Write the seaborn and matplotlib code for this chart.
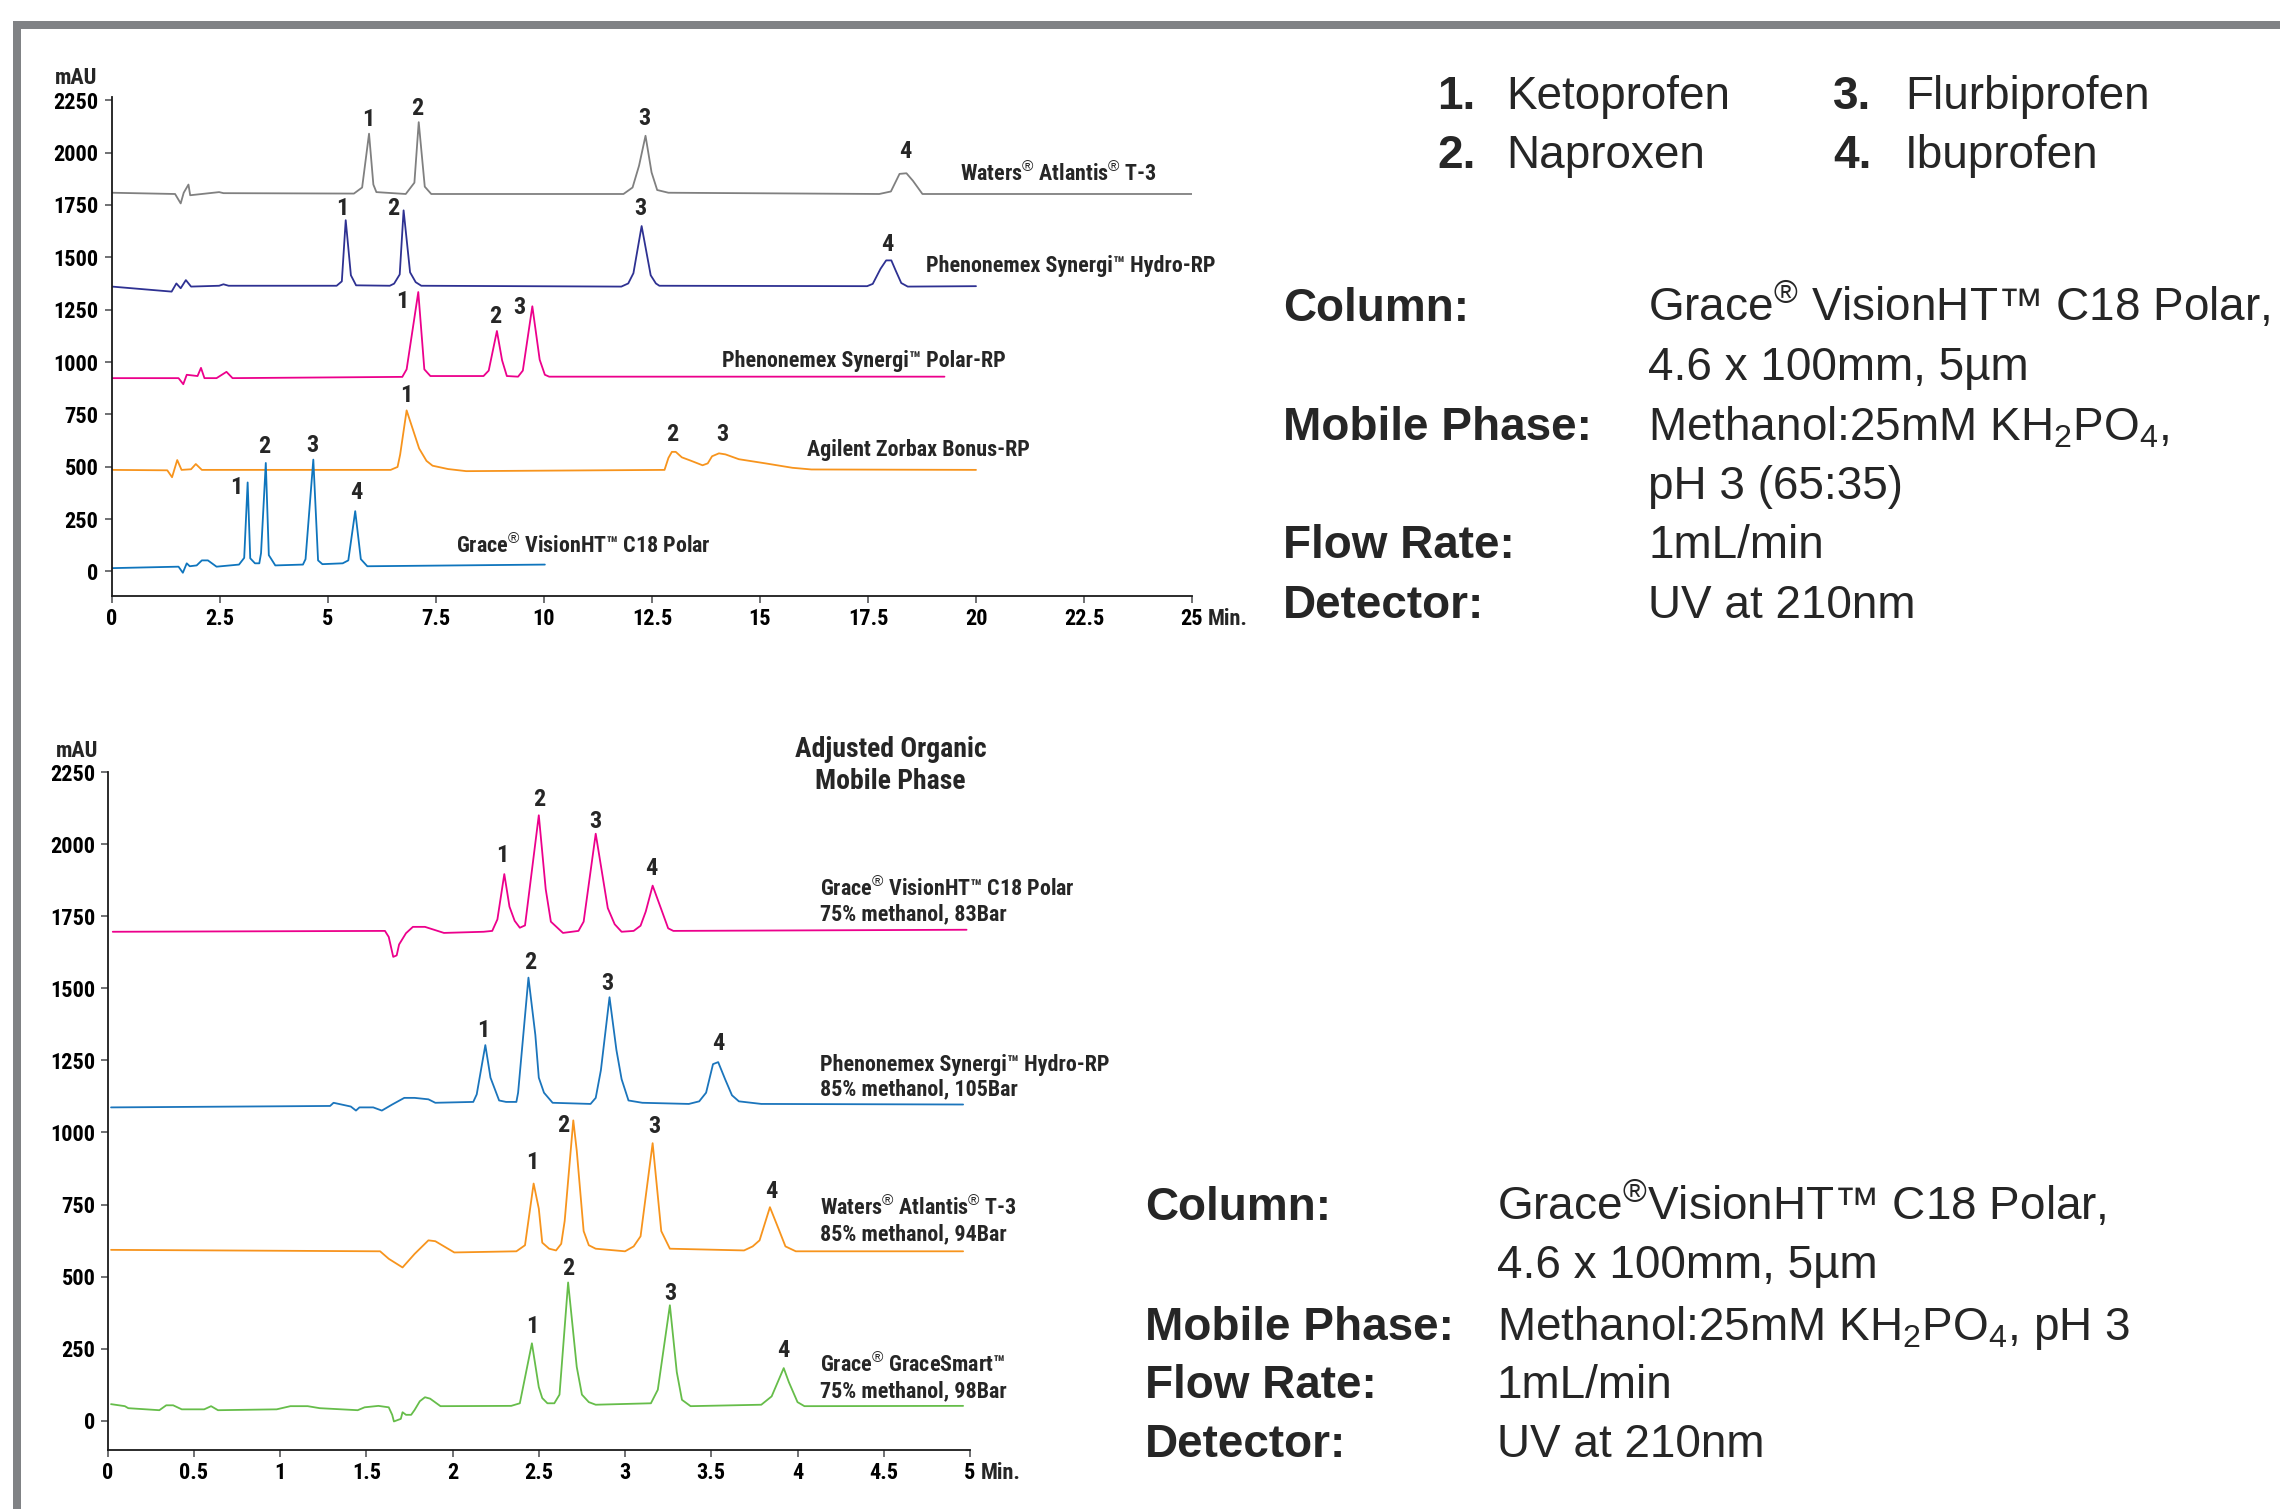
import matplotlib
matplotlib.use("Agg")
import matplotlib.pyplot as plt
import seaborn as sns
import numpy as np
import pandas as pd
from matplotlib import font_manager as fm
from matplotlib.patches import Rectangle

# ---------------- data: top panel (25 min runs) ----------------
top_waters_t = [0, 1.46, 1.59, 1.66, 1.77, 1.81, 2.48, 2.58, 5.6, 5.79, 5.95, 6.05, 6.12, 6.8, 7.0, 7.10, 7.24, 7.39,
                11.84, 12.05, 12.2, 12.35, 12.49, 12.62, 12.88, 17.76, 18.03, 18.23, 18.39, 18.54, 18.76, 25.0]
top_waters_y = [1808, 1802, 1757, 1808, 1847, 1796, 1811, 1806, 1804, 1833, 2090, 1847, 1811, 1802, 1856, 2145, 1837, 1802,
                1802, 1833, 1937, 2080, 1905, 1821, 1808, 1802, 1814, 1898, 1901, 1865, 1802, 1802]

top_hydro_t = [0, 1.38, 1.49, 1.59, 1.71, 1.83, 2.48, 2.58, 2.70, 5.20, 5.32, 5.41, 5.53, 5.65, 6.43, 6.53, 6.66, 6.75,
               6.90, 7.03, 7.16, 11.79, 11.95, 12.07, 12.26, 12.47, 12.59, 12.67, 17.48, 17.61, 17.79, 17.92, 18.04,
               18.14, 18.27, 18.42, 20.0]
top_hydro_y = [1360, 1336, 1375, 1352, 1391, 1360, 1364, 1371, 1364, 1364, 1385, 1677, 1414, 1366, 1364, 1374, 1418, 1724,
               1428, 1381, 1364, 1360, 1375, 1424, 1649, 1414, 1375, 1364, 1362, 1373, 1445, 1485, 1485,
               1437, 1377, 1360, 1362]

top_polar_t = [0, 1.54, 1.65, 1.73, 1.98, 2.06, 2.14, 2.42, 2.65, 2.79, 6.72, 6.82, 7.09, 7.23, 7.37, 8.60, 8.72, 8.91,
               9.03, 9.14, 9.40, 9.51, 9.73, 9.90, 10.02, 10.12, 19.27]
top_polar_y = [923, 923, 894, 939, 933, 972, 923, 923, 953, 923, 929, 965, 1334, 965, 933, 933, 959, 1148,
               1008, 933, 930, 959, 1266, 1011, 939, 930, 930]

top_bonus_t = [0, 1.28, 1.39, 1.51, 1.61, 1.83, 1.94, 2.08, 6.45, 6.61, 6.67, 6.82, 7.11, 7.28, 7.42, 7.78, 8.2,
               12.79, 12.88, 12.96, 13.05, 13.19, 13.41, 13.67, 13.79, 13.89, 14.05, 14.20, 14.51, 15.13, 15.75,
               16.19, 20.0]
top_bonus_y = [485, 483, 450, 532, 485, 488, 513, 485, 485, 499, 558, 769, 587, 528, 505, 489, 479,
               485, 542, 571, 571, 545, 528, 507, 516, 550, 564, 559, 536, 516, 495,
               487, 485]

top_vision_t = [0, 1.54, 1.64, 1.73, 1.80, 1.96, 2.08, 2.22, 2.42, 2.94, 3.06, 3.14, 3.20, 3.31, 3.41, 3.45, 3.56,
                3.63, 3.78, 4.42, 4.48, 4.66, 4.77, 4.87, 5.34, 5.47, 5.63, 5.76, 5.91, 10.02]
top_vision_y = [16, 23, -6, 39, 25, 29, 53, 53, 23, 33, 65, 425, 63, 39, 39, 88, 518,
                78, 29, 33, 59, 534, 53, 35, 39, 53, 288, 59, 25, 33]

R = "$^{\\mathrm{®}}$"
top_names = ["Waters" + R + " Atlantis" + R + " T-3",
             "Phenonemex Synergi™ Hydro-RP",
             "Phenonemex Synergi™ Polar-RP",
             "Agilent Zorbax Bonus-RP",
             "Grace" + R + " VisionHT™ C18 Polar"]
top_colors = ["#808080", "#2e3192", "#ec008c", "#f7941d", "#0f75bd"]
top_name_x = [19.62, 18.85, 14.13, 16.09, 7.97]
top_name_y = [1900, 1458, 1004, 579, 121]
top_peak_x = [[5.93, 7.06, 12.33, 18.37], [5.34, 6.50, 12.23, 17.95], [6.72, 8.88, 9.43],
              [6.80, 12.96, 14.12], [2.87, 3.52, 4.63, 5.65]]
top_peak_y = [[2158, 2210, 2160, 2003], [1735, 1735, 1735, 1562], [1291, 1219, 1262],
              [841, 653, 653], [401, 597, 603, 376]]
top_peak_id = [["1", "2", "3", "4"], ["1", "2", "3", "4"], ["1", "2", "3"], ["1", "2", "3"], ["1", "2", "3", "4"]]

# ---------------- data: bottom panel (5 min runs) ----------------
bot_vision_t = [0.03, 1.608, 1.63, 1.656, 1.676, 1.69, 1.73, 1.77, 1.84, 1.95, 2.18, 2.23, 2.26, 2.30, 2.33, 2.36,
                2.39, 2.42, 2.43, 2.50, 2.54, 2.57, 2.64, 2.73, 2.76, 2.83, 2.90, 2.94, 2.98, 3.05, 3.09, 3.12,
                3.16, 3.21, 3.25, 3.28, 4.98]
bot_vision_y = [1696, 1699, 1678, 1609, 1614, 1652, 1691, 1713, 1713, 1692, 1696, 1699, 1739, 1896, 1783, 1734,
                1710, 1718, 1765, 2100, 1844, 1731, 1692, 1699, 1731, 2036, 1778, 1722, 1696, 1699, 1717, 1766,
                1856, 1774, 1708, 1699, 1703]

bot_hydro_t = [0.02, 1.29, 1.31, 1.41, 1.44, 1.46, 1.54, 1.59, 1.65, 1.72, 1.78, 1.86, 1.90, 2.12, 2.14, 2.19,
               2.22, 2.27, 2.31, 2.37, 2.38, 2.44, 2.48, 2.50, 2.53, 2.58, 2.80, 2.83, 2.86, 2.91, 2.95, 2.98,
               3.02, 3.10, 3.37, 3.43, 3.47, 3.51, 3.54, 3.58, 3.62, 3.66, 3.79, 4.96]
bot_hydro_y = [1087, 1092, 1103, 1090, 1076, 1087, 1087, 1076, 1097, 1120, 1120, 1115, 1103, 1106, 1132, 1303,
               1190, 1111, 1106, 1106, 1138, 1537, 1338, 1190, 1138, 1103, 1099, 1120, 1216, 1469, 1286, 1185,
               1111, 1103, 1099, 1108, 1138, 1237, 1244, 1185, 1129, 1108, 1099, 1097]

bot_waters_t = [0.02, 1.58, 1.63, 1.71, 1.78, 1.86, 1.90, 2.01, 2.37, 2.42, 2.47, 2.50, 2.52, 2.56, 2.60, 2.63,
                2.65, 2.70, 2.72, 2.76, 2.79, 2.83, 3.00, 3.05, 3.09, 3.16, 3.21, 3.26, 3.69, 3.74, 3.78, 3.84,
                3.89, 3.93, 3.99, 4.96]
bot_waters_y = [593, 588, 562, 532, 579, 626, 623, 584, 588, 609, 823, 736, 618, 597, 591, 614,
                693, 1042, 937, 658, 609, 597, 588, 605, 640, 963, 658, 597, 591, 605, 626, 741,
                666, 605, 588, 588]

bot_smart_t = [0.02, 0.10, 0.12, 0.30, 0.34, 0.38, 0.43, 0.56, 0.60, 0.64, 0.98, 1.06, 1.16, 1.23, 1.45, 1.49,
               1.57, 1.63, 1.65, 1.66, 1.70, 1.71, 1.73, 1.76, 1.78, 1.81, 1.84, 1.87, 1.93, 2.34, 2.39, 2.46,
               2.50, 2.52, 2.55, 2.59, 2.62, 2.67, 2.72, 2.75, 2.79, 2.83, 3.15, 3.19, 3.26, 3.30, 3.33, 3.38,
               3.79, 3.85, 3.92, 3.95, 4.00, 4.04, 4.96]
bot_smart_y = [58, 51, 44, 37, 54, 54, 40, 40, 51, 37, 40, 51, 51, 44, 37, 47,
               52, 47, 21, -2, 7, 30, 21, 21, 38, 68, 82, 77, 51, 52, 61, 269,
               117, 79, 61, 61, 91, 480, 187, 91, 65, 56, 61, 108, 401, 169, 73, 51,
               56, 85, 183, 134, 65, 51, 52]

bot_names = ["Grace" + R + " VisionHT™ C18 Polar\n75% methanol, 83Bar",
             "Phenonemex Synergi™ Hydro-RP\n85% methanol, 105Bar",
             "Waters" + R + " Atlantis" + R + " T-3\n85% methanol, 94Bar",
             "Grace" + R + " GraceSmart™\n75% methanol, 98Bar"]
bot_colors = ["#ec008c", "#1b75bc", "#f7941d", "#66bd4a"]
bot_name_x = [4.13, 4.13, 4.13, 4.13]
bot_name_y = [1802, 1191, 695, 150]
bot_peak_x = [[2.29, 2.50, 2.83, 3.15], [2.18, 2.45, 2.90, 3.54], [2.46, 2.64, 3.17, 3.85], [2.46, 2.67, 3.26, 3.92]]
bot_peak_y = [[1961, 2153, 2080, 1917], [1352, 1591, 1518, 1307], [897, 1024, 1021, 794], [326, 527, 443, 243]]
bot_peak_id = ["1", "2", "3", "4"]

top_xticks = [0, 2.5, 5, 7.5, 10, 12.5, 15, 17.5, 20, 22.5, 25]
bot_xticks = [0, 0.5, 1, 1.5, 2, 2.5, 3, 3.5, 4, 4.5, 5]
yticks = [0, 250, 500, 750, 1000, 1250, 1500, 1750, 2000, 2250]

legend_num = ["1.", "2.", "3.", "4."]
legend_cmp = ["Ketoprofen", "Naproxen", "Flurbiprofen", "Ibuprofen"]

cond_keys_top = ["Column:", "", "Mobile Phase:", "", "Flow Rate:", "Detector:"]
cond_vals_top = ["Grace" + R + " VisionHT™ C18 Polar,", "4.6 x 100mm, 5µm",
                 "Methanol:25mM KH$_{\\mathrm{2}}$PO$_{\\mathrm{4}}$,", "pH 3 (65:35)", "1mL/min", "UV at 210nm"]
cond_keys_bot = ["Column:", "", "Mobile Phase:", "Flow Rate:", "Detector:"]
cond_vals_bot = ["Grace" + R + "VisionHT™ C18 Polar,", "4.6 x 100mm, 5µm",
                 "Methanol:25mM KH$_{\\mathrm{2}}$PO$_{\\mathrm{4}}$, pH 3", "1mL/min", "UV at 210nm"]

# ---------------- style ----------------
sns.set_theme(style="white")
entries = fm.fontManager.ttflist
names = {f.name for f in entries}


def has_bold(name):
    for f in entries:
        if f.name == name:
            w = f.weight
            try:
                if int(w) >= 600:
                    return True
            except (TypeError, ValueError):
                if str(w).lower() in ("bold", "heavy", "black", "semibold", "demibold"):
                    return True
    return False


NARROW, STRETCH = None, "normal"
for cand in ["Liberation Sans Narrow", "Nimbus Sans Narrow", "Arial Narrow", "Roboto Condensed",
             "PT Sans Narrow", "Archivo Narrow", "Barlow Semi Condensed"]:
    if cand in names and has_bold(cand):
        NARROW = cand
        break
if NARROW is None:
    NARROW, STRETCH = "DejaVu Sans", "condensed"
REG = "Liberation Sans" if "Liberation Sans" in names else "DejaVu Sans"

plt.rcParams["font.family"] = [REG, "DejaVu Sans"]
plt.rcParams["mathtext.fontset"] = "custom"
plt.rcParams["mathtext.rm"] = REG
plt.rcParams["mathtext.it"] = REG + ":italic"
plt.rcParams["mathtext.bf"] = REG + ":bold"

W, H = 2280, 1509
fig = plt.figure(figsize=(W / 100, H / 100), dpi=100)
fig.patch.set_facecolor("white")


def fx(px):
    return px / W


def fy(py):
    return 1 - py / H


# frame bars
fig.add_artist(Rectangle((fx(13), fy(28.5)), 1 - fx(13), 7.5 / H, transform=fig.transFigure,
                         color="#808285", lw=0))
fig.add_artist(Rectangle((fx(13), 0), 7.5 / W, fy(21), transform=fig.transFigure,
                         color="#808285", lw=0))

ax1 = fig.add_axes([fx(112), fy(596), fx(1192) - fx(112), fy(97) - fy(596)])
ax2 = fig.add_axes([fx(107.6), fy(1450), fx(970) - fx(107.6), fy(772) - fy(1450)])

lab_font = dict(family=[NARROW, "DejaVu Sans"], weight=800, stretch=STRETCH)
TICK_FS = 16


def style_axes(ax, xlim, ylim, xticks, ylab_pad, min_dx):
    ax.set_xlim(*xlim)
    ax.set_ylim(*ylim)
    for s in ["top", "right"]:
        ax.spines[s].set_visible(False)
    for s in ["left", "bottom"]:
        ax.spines[s].set_color("#1a1a1a")
        ax.spines[s].set_linewidth(1.3)
    ax.set_xticks(xticks, labels=[f"{v:g}" for v in xticks], fontsize=TICK_FS, **lab_font)
    ax.set_yticks(yticks, labels=[f"{v:g}" for v in yticks], fontsize=TICK_FS, **lab_font)
    ax.tick_params(axis="both", which="both", bottom=True, left=True, direction="out",
                   length=5.3, width=1.2, color="#58595b", labelcolor="black")
    ax.tick_params(axis="x", pad=3.0)
    ax.tick_params(axis="y", pad=ylab_pad)
    ax.set_xlabel("")
    ax.set_ylabel("")
    ax.patch.set_alpha(0)
    ax.annotate("Min.", xy=(xlim[1], 0), xycoords=("data", "axes fraction"), xytext=(min_dx, -8.3),
                textcoords="offset points", ha="left", va="top", fontsize=TICK_FS, **lab_font)


top_series = [(top_waters_t, top_waters_y), (top_hydro_t, top_hydro_y), (top_polar_t, top_polar_y),
              (top_bonus_t, top_bonus_y), (top_vision_t, top_vision_y)]
for i, (t, y) in enumerate(top_series):
    df = pd.DataFrame({"time": t, "mAU": y})
    sns.lineplot(data=df, x="time", y="mAU", ax=ax1, color=top_colors[i], lw=1.3,
                 sort=False, estimator=None)
    ax1.text(top_name_x[i], top_name_y[i], top_names[i], ha="left", va="center", fontsize=15.8, **lab_font)
    for px_, py_, pid in zip(top_peak_x[i], top_peak_y[i], top_peak_id[i]):
        ax1.text(px_, py_, pid, ha="center", va="center", fontsize=17.5, **lab_font)
style_axes(ax1, (0, 25), (-117, 2265), top_xticks, 4.5, 11.5)

bot_series = [(bot_vision_t, bot_vision_y), (bot_hydro_t, bot_hydro_y), (bot_waters_t, bot_waters_y),
              (bot_smart_t, bot_smart_y)]
for i, (t, y) in enumerate(bot_series):
    df = pd.DataFrame({"time": t, "mAU": y})
    sns.lineplot(data=df, x="time", y="mAU", ax=ax2, color=bot_colors[i], lw=1.3,
                 sort=False, estimator=None)
    ax2.text(bot_name_x[i], bot_name_y[i], bot_names[i], ha="left", va="center", fontsize=15.8,
             linespacing=1.15, **lab_font)
    for px_, py_, pid in zip(bot_peak_x[i], bot_peak_y[i], bot_peak_id):
        ax2.text(px_, py_, pid, ha="center", va="center", fontsize=17.5, **lab_font)
ax2.text(4.54, 2272, "Adjusted Organic\nMobile Phase", ha="center", va="center", fontsize=20,
         linespacing=1.22, clip_on=False, **lab_font)
style_axes(ax2, (0, 5), (-101, 2250), bot_xticks, 3.5, 7.5)

# mAU labels
fig.text(fx(76), fy(78), "mAU", ha="center", va="center", fontsize=16, **lab_font)
fig.text(fx(77), fy(751), "mAU", ha="center", va="center", fontsize=16, **lab_font)

# ---------------- right side text ----------------
TS = 33
num_x = [1437, 1437, 1833, 1833]
cmp_x = [1506, 1506, 1905, 1905]
row_y = [109, 168, 109, 168]
for n, c, xn, xc, yy in zip(legend_num, legend_cmp, num_x, cmp_x, row_y):
    fig.text(fx(xn), fy(yy), n, ha="left", va="baseline", fontsize=TS, weight="bold")
    fig.text(fx(xc), fy(yy), c, ha="left", va="baseline", fontsize=TS)

top_base = [321, 380.5, 440, 498.5, 558.5, 618]
for k, v, yy in zip(cond_keys_top, cond_vals_top, top_base):
    if k:
        fig.text(fx(1283), fy(yy), k, ha="left", va="baseline", fontsize=TS, weight="bold")
    fig.text(fx(1648), fy(yy), v, ha="left", va="baseline", fontsize=TS)

bot_base = [1220.5, 1278.5, 1340, 1398, 1457]
for k, v, yy in zip(cond_keys_bot, cond_vals_bot, bot_base):
    if k:
        fig.text(fx(1145), fy(yy), k, ha="left", va="baseline", fontsize=TS, weight="bold")
    fig.text(fx(1497), fy(yy), v, ha="left", va="baseline", fontsize=TS)

fig.savefig("out.png", dpi=100, facecolor="white")
